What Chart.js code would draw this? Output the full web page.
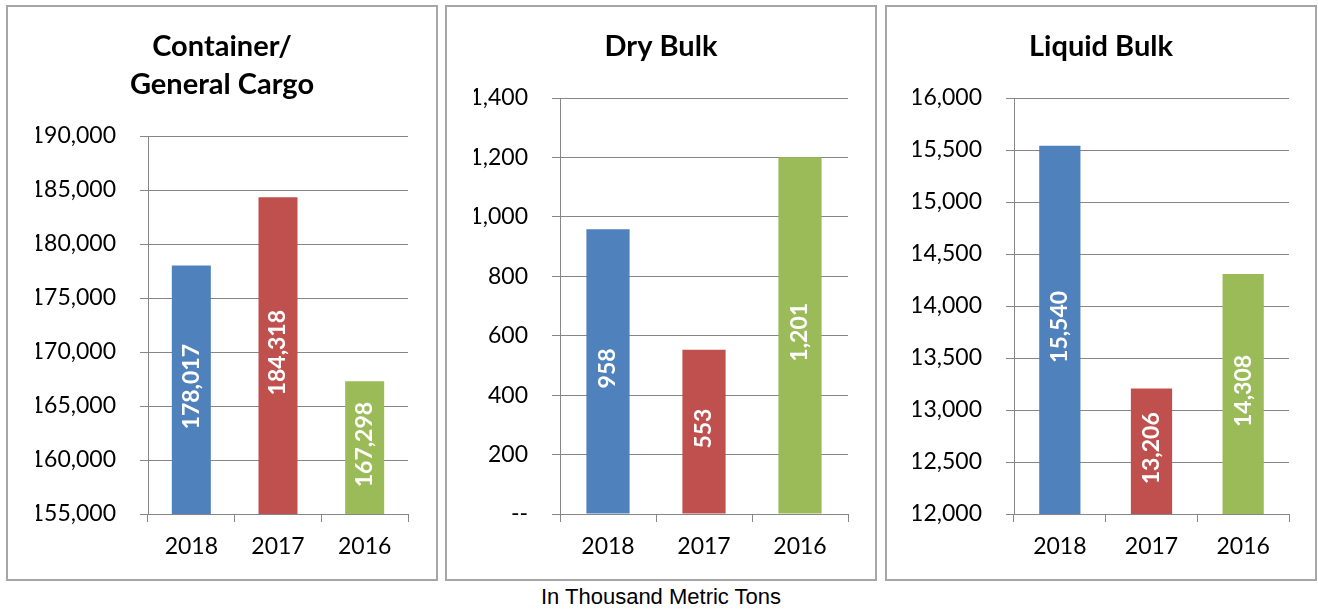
<!DOCTYPE html>
<html>
<head>
<meta charset="utf-8">
<script src="https://cdn.jsdelivr.net/npm/chart.js@4/dist/chart.umd.min.js"></script>
<style>
    body { margin: 0; background: #fff; width: 1318px; height: 609px; position: relative; overflow: hidden; }
    .panel { position: absolute; box-sizing: border-box; border: 2px solid #a6a6a6; }
    canvas { position: absolute; }
    #caption { position: absolute; left: 461px; width: 400px; top: 584px; text-align: center;
               font-family: "Liberation Sans Narrow", "Liberation Sans", Arial, sans-serif; font-size: 22px; color: #000; }
</style>
</head>
<body>
<div class="panel" style="left:6px;top:5px;width:432px;height:576px"></div>
<div class="panel" style="left:445px;top:5px;width:432px;height:576px"></div>
<div class="panel" style="left:885px;top:5px;width:432px;height:576px"></div>
<canvas id="containerChart" style="left:8px;top:7px" width="428" height="572"></canvas>
<canvas id="dryBulkChart" style="left:447px;top:7px" width="428" height="572"></canvas>
<canvas id="liquidBulkChart" style="left:887px;top:7px" width="428" height="572"></canvas>
<div id="caption">In Thousand Metric Tons</div>
<script>
// Data
const years = ['2018', '2017', '2016'];
const containerValues = [178017, 184318, 167298];
const dryBulkValues = [958, 553, 1201];
const liquidBulkValues = [15540, 13206, 14308];
const barColors = ['#4F81BD', '#C0504D', '#9BBB59'];

// y axis ranges: [min, max, step]
const containerRange = [155000, 190000, 5000];
const dryBulkRange = [0, 1400, 200];
const liquidBulkRange = [12000, 16000, 500];

const fontFamily = 'Lato, "Open Sans", sans-serif';
const gridColor = '#868686';

// white rotated value labels inside the bars
const barLabels = {
    id: 'barLabels',
    afterDatasetsDraw(chart) {
        const ctx = chart.ctx;
        const meta = chart.getDatasetMeta(0);
        const data = chart.data.datasets[0].data;
        const bottom = chart.chartArea.bottom;
        ctx.save();
        ctx.fillStyle = '#fff';
        ctx.font = 'bold 23px ' + fontFamily;
        ctx.textAlign = 'center';
        ctx.textBaseline = 'middle';
        meta.data.forEach(function(bar, i) {
            const cy = (bar.y + Math.min(bar.base, bottom)) / 2 - 3;
            ctx.save();
            ctx.translate(bar.x, cy);
            ctx.rotate(-Math.PI / 2);
            ctx.fillText(data[i].toLocaleString('en-US'), 0, 0);
            ctx.restore();
        });
        ctx.restore();
    }
};

// yWidth = distance from canvas left to the y axis line, sidePad = space right of the plot
function makeChart(id, titleLines, values, range, yWidth, sidePad, zeroDash) {
    const ctx = document.getElementById(id).getContext('2d');
    return new Chart(ctx, {
        type: 'bar',
        data: {
            labels: years,
            datasets: [{
                data: values,
                backgroundColor: barColors,
                barPercentage: 0.45,
                categoryPercentage: 1
            }]
        },
        options: {
            responsive: false,
            animation: false,
            layout: { padding: { left: sidePad, right: sidePad, top: 0, bottom: 0 } },
            plugins: {
                legend: { display: false },
                tooltip: { enabled: false },
                title: {
                    display: true,
                    text: titleLines,
                    color: '#000',
                    font: { family: fontFamily, size: 29, weight: 'bold', lineHeight: 38 / 29 },
                    padding: { top: 21, bottom: 32 }
                }
            },
            scales: {
                x: {
                    offset: true,
                    grid: { display: true, drawOnChartArea: false, drawTicks: true, tickLength: 8, offset: true, color: gridColor },
                    border: { display: true, color: gridColor, width: 1 },
                    ticks: { color: '#000', font: { family: fontFamily, size: 23 }, padding: 11 },
                    afterFit(axis) { axis.height = 65; }
                },
                y: {
                    min: range[0],
                    max: range[1],
                    grid: { color: gridColor, tickLength: 8, drawTicks: true },
                    border: { display: true, color: gridColor, width: 1 },
                    ticks: {
                        stepSize: range[2],
                        color: '#000',
                        padding: 24,
                        font: { family: fontFamily, size: 23 },
                        callback: function(v) {
                            if (zeroDash && v === 0) return '--';
                            return v.toLocaleString('en-US');
                        }
                    },
                    afterFit(axis) { axis.width = yWidth - sidePad; }
                }
            }
        },
        plugins: [barLabels]
    });
}

document.addEventListener('DOMContentLoaded', function() {
    makeChart('containerChart', ['Container/', 'General Cargo'], containerValues, containerRange, 140, 28, false);
    makeChart('dryBulkChart', ['Dry Bulk'], dryBulkValues, dryBulkRange, 113, 27, true);
    makeChart('liquidBulkChart', ['Liquid Bulk'], liquidBulkValues, liquidBulkRange, 127, 26, false);
});
</script>
</body>
</html>
